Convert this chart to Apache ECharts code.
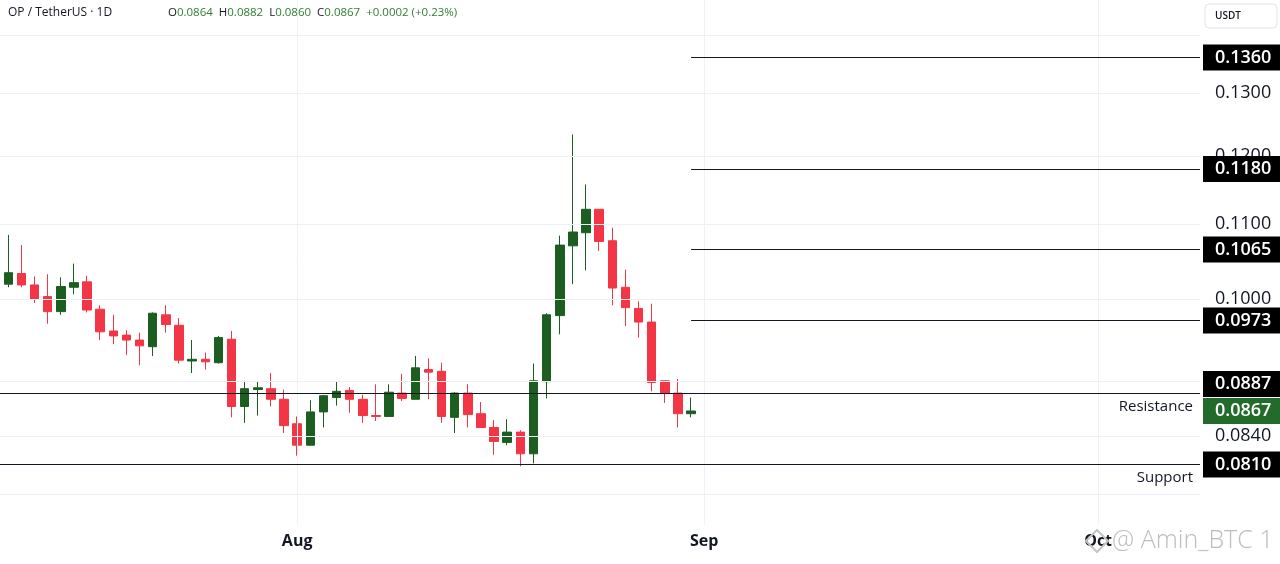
<!DOCTYPE html>
<html>
<head>
<meta charset="utf-8">
<script src="https://cdn.jsdelivr.net/npm/echarts@6/dist/echarts.min.js"></script>
<style>
html,body{margin:0;padding:0;background:#ffffff;}
#c{width:1280px;height:564px;}
</style>
</head>
<body>
<div id="c"></div>
<script>
// ---------- data ----------
const dates = [
 '2025-07-10','2025-07-11','2025-07-12','2025-07-13','2025-07-14','2025-07-15','2025-07-16','2025-07-17',
 '2025-07-18','2025-07-19','2025-07-20','2025-07-21','2025-07-22','2025-07-23','2025-07-24','2025-07-25',
 '2025-07-26','2025-07-27','2025-07-28','2025-07-29','2025-07-30','2025-07-31','2025-08-01','2025-08-02',
 '2025-08-03','2025-08-04','2025-08-05','2025-08-06','2025-08-07','2025-08-08','2025-08-09','2025-08-10',
 '2025-08-11','2025-08-12','2025-08-13','2025-08-14','2025-08-15','2025-08-16','2025-08-17','2025-08-18',
 '2025-08-19','2025-08-20','2025-08-21','2025-08-22','2025-08-23','2025-08-24','2025-08-25','2025-08-26',
 '2025-08-27','2025-08-28','2025-08-29','2025-08-30','2025-08-31'
];
const opens = [
 0.1019,0.1033,0.1018,0.1003,0.0984,0.1015,0.1022,0.0987,0.0960,0.0955,0.0949,0.0941,0.0980,0.0967,0.0924,0.0926,
 0.0922,0.0950,0.0872,0.0891,0.0892,0.0880,0.0853,0.0830,0.0866,0.0882,0.0890,0.0880,0.0862,0.0861,0.0887,0.0880,
 0.0914,0.0912,0.0860,0.0887,0.0864,0.0849,0.0833,0.0844,0.0821,0.0900,0.0979,0.1070,0.1088,0.1121,0.1077,0.1015,
 0.0988,0.0971,0.0901,0.0887,0.0864
];
const closes = [
 0.1034,0.1018,0.1000,0.0984,0.1016,0.1021,0.0986,0.0959,0.0954,0.0949,0.0942,0.0982,0.0968,0.0925,0.0926,0.0923,
 0.0952,0.0872,0.0892,0.0893,0.0880,0.0851,0.0830,0.0866,0.0884,0.0889,0.0880,0.0862,0.0861,0.0888,0.0881,0.0916,
 0.0911,0.0861,0.0887,0.0863,0.0849,0.0834,0.0844,0.0821,0.0901,0.0980,0.1071,0.1089,0.1121,0.1076,0.1014,0.0989,
 0.0971,0.0899,0.0887,0.0864,0.0867
];
const lows = [
 0.1015,0.1015,0.0995,0.0969,0.0980,0.1006,0.0983,0.0949,0.0944,0.0931,0.0919,0.0930,0.0958,0.0921,0.0910,0.0914,
 0.0921,0.0860,0.0854,0.0862,0.0872,0.0843,0.0819,0.0830,0.0849,0.0873,0.0865,0.0854,0.0856,0.0861,0.0878,0.0880,
 0.0880,0.0854,0.0843,0.0849,0.0849,0.0820,0.0830,0.0808,0.0811,0.0881,0.0956,0.1019,0.1037,0.1063,0.0992,0.0966,
 0.0952,0.0889,0.0876,0.0849,0.0860
];
const highs = [
 0.1085,0.1071,0.1029,0.1032,0.1028,0.1046,0.1030,0.0992,0.0980,0.0961,0.0958,0.0983,0.0992,0.0976,0.0949,0.0934,
 0.0954,0.0960,0.0901,0.0900,0.0910,0.0891,0.0861,0.0879,0.0885,0.0900,0.0894,0.0885,0.0897,0.0897,0.0909,0.0930,
 0.0927,0.0922,0.0888,0.0897,0.0877,0.0857,0.0858,0.0846,0.0921,0.0982,0.1084,0.1233,0.1157,0.1121,0.1095,0.1038,
 0.0997,0.0994,0.0901,0.0903,0.0882
];
const monthStarts = ['2025-08-01','2025-09-01','2025-10-01'];
const monthLabels = ['Aug','Sep','Oct'];
const gridPrices = [0.14,0.13,0.12,0.11,0.10,0.09,0.084,0.078];
const axisPriceLabels = [0.13,0.12,0.11,0.10,0.084];
const targetLevels = [0.1360,0.1180,0.1065,0.0973];
const resistanceLevel = 0.0887;
const supportLevel = 0.0810;
const lastPrice = 0.0867;
const headerTitle = 'OP / TetherUS · 1D';
const headerOHLC = [['O','0.0864'],['H','0.0882'],['L','0.0860'],['C','0.0867']];
const headerChange = '+0.0002 (+0.23%)';

// ---------- layout / style ----------
const FONT = "'Open Sans', 'Noto Sans', sans-serif";
const UP = '#1b5e20', DOWN = '#f23645';
const X_MIN = -0.632, X_MAX = 90.76;
const Y_MIN = 0.07498, Y_MAX = 0.14635;
const HIDDEN_LINE = {width: 0, color: 'rgba(0,0,0,0)'};

const t0 = Date.parse(dates[0]);
const dayIdx = d => Math.round((Date.parse(d) - t0) / 86400000);
const monthIdx = monthStarts.map(dayIdx);
const lastIdx = dayIdx(dates[dates.length - 1]);

const candleData = dates.map((d, i) => [dayIdx(d), opens[i], closes[i], lows[i], highs[i]]);

const boxLabel = (bg, extra) => Object.assign({
  show: true, position: 'end', distance: 3, opacity: 1,
  backgroundColor: bg, color: '#ffffff',
  fontFamily: FONT, fontSize: 18, fontWeight: 600, lineHeight: 20,
  padding: [3, 14, 3, 12]
}, extra || {});

const markData = [];
gridPrices.forEach(p => markData.push({
  yAxis: p, lineStyle: {color: '#eef1f6', width: 1, type: 'solid'}, label: {show: false}
}));
monthIdx.forEach(v => markData.push({
  xAxis: v, lineStyle: {color: '#eef1f6', width: 1, type: 'solid'}, label: {show: false}
}));
axisPriceLabels.forEach(p => markData.push({
  yAxis: p, lineStyle: HIDDEN_LINE,
  label: {show: true, position: 'end', distance: 3, opacity: 1, formatter: p.toFixed(4), color: '#131722',
          fontFamily: FONT, fontSize: 18, fontWeight: 500, lineHeight: 20, padding: [3, 14, 3, 12]}
}));
targetLevels.forEach(p => {
  const style = {color: '#131722', width: 1, type: 'solid'};
  const lbl = boxLabel('#000000', {formatter: p.toFixed(4)});
  markData.push([
    {coord: [lastIdx, p], lineStyle: style, label: lbl},
    {coord: [X_MAX, p], lineStyle: style, label: lbl}
  ]);
});
markData.push({
  yAxis: resistanceLevel, lineStyle: {color: '#131722', width: 1, type: 'solid'},
  label: {show: true, position: 'insideEndBottom', distance: [7, 6], formatter: 'Resistance',
          color: '#131722', fontFamily: FONT, fontSize: 15}
});
markData.push({
  yAxis: supportLevel, lineStyle: {color: '#131722', width: 1, type: 'solid'},
  label: {show: true, position: 'insideEndBottom', distance: [7, 6], formatter: 'Support',
          color: '#131722', fontFamily: FONT, fontSize: 15}
});
markData.push({
  yAxis: resistanceLevel, lineStyle: HIDDEN_LINE,
  label: boxLabel('#000000', {formatter: resistanceLevel.toFixed(4), offset: [0, -9]})
});
markData.push({
  yAxis: supportLevel, lineStyle: HIDDEN_LINE,
  label: boxLabel('#000000', {formatter: supportLevel.toFixed(4)})
});
markData.push({
  yAxis: lastPrice, lineStyle: HIDDEN_LINE,
  label: boxLabel('#226b2b', {formatter: lastPrice.toFixed(4)})
});

const rich = {
  k: {fill: '#131722', fontFamily: FONT, fontSize: 11.5},
  v: {fill: '#2e7d32', fontFamily: FONT, fontSize: 11.5}
};
const ohlcText = headerOHLC.map(([k, v]) => '{k|' + k + '}{v|' + v + '}').join('{k|  }') + '{k|  }{v|' + headerChange + '}';

const chart = echarts.init(document.getElementById('c'), null, {renderer: 'canvas'});
chart.setOption({
  animation: false,
  backgroundColor: '#ffffff',
  grid: {left: 0, right: 80, top: 0, bottom: 39, containLabel: false},
  xAxis: {
    type: 'value', min: X_MIN, max: X_MAX,
    axisLine: {show: false}, axisTick: {show: false}, splitLine: {show: false},
    axisLabel: {
      customValues: monthIdx,
      formatter: v => { const k = monthIdx.indexOf(Math.round(v)); return k >= 0 ? monthLabels[k] : ''; },
      color: '#131722', fontFamily: FONT, fontSize: 16, fontWeight: 'bold', margin: 8
    }
  },
  yAxis: {
    type: 'log', logBase: 10, min: Y_MIN, max: Y_MAX, position: 'right',
    axisLine: {show: false}, axisTick: {show: false}, splitLine: {show: false},
    axisLabel: {show: false}
  },
  series: [{
    type: 'candlestick',
    data: candleData,
    encode: {x: 0, y: [1, 2, 3, 4]},
    barWidth: 9,
    itemStyle: {color: UP, color0: DOWN, borderColor: UP, borderColor0: DOWN, borderWidth: 1},
    markLine: {
      silent: true, symbol: ['none', 'none'], animation: false, precision: 6,
      data: markData
    }
  }],
  graphic: [
    {type: 'text', left: 8, top: 7, z: 100, style: {text: headerTitle, fill: '#131722', font: '12px ' + FONT}},
    {type: 'text', left: 168, top: 7, z: 100, style: {text: ohlcText, rich: rich, font: '11.5px ' + FONT}},
    {type: 'rect', shape: {x: 1205, y: 4, width: 72, height: 24, r: 4},
     style: {fill: '#ffffff', stroke: '#e0e3eb', lineWidth: 1}, z: 100},
    {type: 'text', x: 1215, y: 16, z: 101,
     style: {text: 'USDT', fill: '#131722', font: '600 10px ' + FONT, textVerticalAlign: 'middle'}},
    {type: 'polygon', z: 110,
     shape: {points: [[1097, 530], [1108, 541], [1097, 552], [1086, 541]]},
     style: {fill: 'none', stroke: '#c4c4c4', lineWidth: 2}},
    {type: 'text', x: 1112, y: 541, z: 110,
     style: {text: '@ Amin_BTC 1', fill: '#bdbdbd', font: '300 25px ' + FONT, textVerticalAlign: 'middle'}}
  ]
});
</script>
</body>
</html>
